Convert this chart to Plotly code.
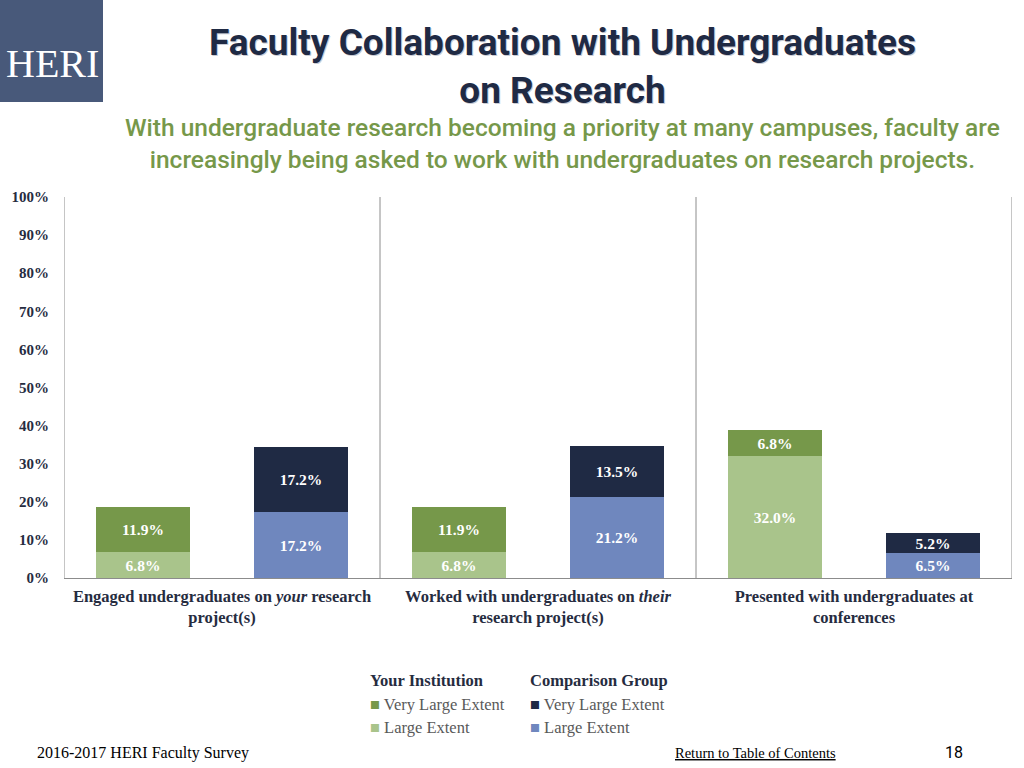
import plotly.graph_objects as go

# -------------------------------------------------------------------
# DATA
# -------------------------------------------------------------------
GROUPS = [
    "Engaged undergraduates on <i>your</i> research<br>project(s)",
    "Worked with undergraduates on <i>their</i><br>research project(s)",
    "Presented with undergraduates at<br>conferences",
]
YOUR_LARGE = [6.8, 6.8, 32.0]
YOUR_VERY_LARGE = [11.9, 11.9, 6.8]
COMP_LARGE = [17.2, 21.2, 6.5]
COMP_VERY_LARGE = [17.2, 13.5, 5.2]

Y_TICKS = list(range(0, 101, 10))

# -------------------------------------------------------------------
# STYLE
# -------------------------------------------------------------------
GREEN_DARK = "#76984a"
GREEN_LIGHT = "#a9c48b"
NAVY = "#1f2a44"
BLUE = "#6f87be"
TEXT = "#262c3f"
SERIF = "Liberation Serif, DejaVu Serif, serif"
SANS = "Roboto, Liberation Sans, sans-serif"

# plot area in page pixels
PL, PR, PT, PB = 64, 1012, 197, 578
PW, PH = PR - PL, PB - PT


def px_x(x):
    return (x - PL) / PW


def px_y(y):
    return (PB - y) / PH


your_x = [i * 2 for i in range(len(GROUPS))]
comp_x = [i * 2 + 1 for i in range(len(GROUPS))]
group_centers = [i * 2 + 0.5 for i in range(len(GROUPS))]
separators = [i * 2 - 0.5 for i in range(len(GROUPS) + 1)]

fig = go.Figure()


def add_segment(x, vals, color):
    fig.add_trace(
        go.Bar(
            x=x,
            y=vals,
            width=0.59,
            marker=dict(color=color, line=dict(width=0)),
            text=[f"{v:.1f}%" for v in vals],
            textposition="inside",
            insidetextanchor="middle",
            textangle=0,
            constraintext="none",
            textfont=dict(family=SERIF, size=15.5, color="white", weight="bold"),
            hoverinfo="skip",
            showlegend=False,
        )
    )


add_segment(your_x, YOUR_LARGE, GREEN_LIGHT)
add_segment(your_x, YOUR_VERY_LARGE, GREEN_DARK)
add_segment(comp_x, COMP_LARGE, BLUE)
add_segment(comp_x, COMP_VERY_LARGE, NAVY)

# group separators and frame
for sx in separators:
    fig.add_shape(
        type="line", x0=sx, x1=sx, y0=0, y1=100,
        xref="x", yref="y", line=dict(color="#8c8c8c", width=1), layer="below",
    )

# -------------------------------------------------------------------
# HEADER
# -------------------------------------------------------------------
fig.add_shape(
    type="rect", xref="paper", yref="paper",
    x0=px_x(0), x1=px_x(103), y0=px_y(102), y1=px_y(0),
    fillcolor="#48597a", line=dict(width=0),
)
fig.add_annotation(
    text="HERI", xref="paper", yref="paper", x=px_x(52), y=px_y(63),
    xanchor="center", yanchor="middle",
    showarrow=False, font=dict(family=SERIF, size=40, color="white"),
)

for dx, dy, col in [(1, -1, "#c9ccd4"), (0, 0, NAVY)]:
    fig.add_annotation(
        text="<b>Faculty Collaboration with Undergraduates<br>on Research</b>",
        xref="paper", yref="paper", x=px_x(562), y=px_y(66),
        xanchor="center", yanchor="middle",
        xshift=dx, yshift=dy,
        showarrow=False, align="center",
        font=dict(family=SANS, size=37, color=col),
    )

fig.add_annotation(
    text="With undergraduate research becoming a priority at many campuses, faculty are<br>"
         "increasingly being asked to work with undergraduates on research projects.",
    xref="paper", yref="paper", x=px_x(562), y=px_y(143.5),
    xanchor="center", yanchor="middle",
    showarrow=False, align="center",
    font=dict(family=SANS, size=24.5, color=GREEN_DARK, weight=500),
)

# -------------------------------------------------------------------
# LEGEND (two columns with headers)
# -------------------------------------------------------------------
legend_cols = [
    (368, "Your Institution", [(GREEN_DARK, "Very Large Extent"), (GREEN_LIGHT, "Large Extent")]),
    (528, "Comparison Group", [(NAVY, "Very Large Extent"), (BLUE, "Large Extent")]),
]
for lx, head, items in legend_cols:
    fig.add_annotation(
        text=f"<b>{head}</b>", xref="paper", yref="paper",
        x=px_x(lx), y=px_y(680), xanchor="left", yanchor="middle",
        showarrow=False, font=dict(family=SERIF, size=16.5, color=TEXT),
    )
    for j, (col, lab) in enumerate(items):
        fig.add_annotation(
            text=f"<span style='color:{col}'>■</span> {lab}", xref="paper", yref="paper",
            x=px_x(lx), y=px_y(704 + j * 23), xanchor="left", yanchor="middle",
            showarrow=False, font=dict(family=SERIF, size=16.5, color="#595959"),
        )

# -------------------------------------------------------------------
# FOOTER
# -------------------------------------------------------------------
fig.add_annotation(
    text="2016-2017 HERI Faculty Survey", xref="paper", yref="paper",
    x=px_x(35), y=px_y(753), xanchor="left", yanchor="middle",
    showarrow=False, font=dict(family=SERIF, size=16, color="black"),
)
fig.add_annotation(
    text="<u>Return to Table of Contents</u>", xref="paper", yref="paper",
    x=px_x(673), y=px_y(753), xanchor="left", yanchor="middle",
    showarrow=False, font=dict(family=SERIF, size=14.5, color="black"),
)
fig.add_annotation(
    text="18", xref="paper", yref="paper",
    x=px_x(954), y=px_y(752), xanchor="center", yanchor="middle",
    showarrow=False, font=dict(family=SANS, size=16, color="black"),
)

# -------------------------------------------------------------------
# LAYOUT
# -------------------------------------------------------------------
fig.update_layout(
    width=1024,
    height=768,
    barmode="stack",
    bargap=0,
    margin=dict(l=PL, r=1024 - PR, t=PT, b=768 - PB),
    plot_bgcolor="white",
    paper_bgcolor="white",
    xaxis=dict(
        range=[-0.5, len(GROUPS) * 2 - 0.5],
        tickvals=group_centers,
        ticktext=GROUPS,
        tickfont=dict(family=SERIF, size=16.5, color=TEXT, weight="bold"),
        ticklabelstandoff=3,
        showgrid=False,
        zeroline=False,
        showline=True,
        linecolor="#8c8c8c",
        ticks="",
        fixedrange=True,
    ),
    yaxis=dict(
        range=[0, 100],
        tickvals=Y_TICKS,
        ticktext=[f"{v}%" for v in Y_TICKS],
        tickfont=dict(family=SERIF, size=15, color=TEXT, weight="bold"),
        ticklabelstandoff=14,
        showgrid=False,
        zeroline=False,
        showline=False,
        ticks="",
        fixedrange=True,
    ),
)

fig.write_html(
    "out.html",
    config={"displayModeBar": False},
    post_script="document.body.style.margin='0px';",
)
